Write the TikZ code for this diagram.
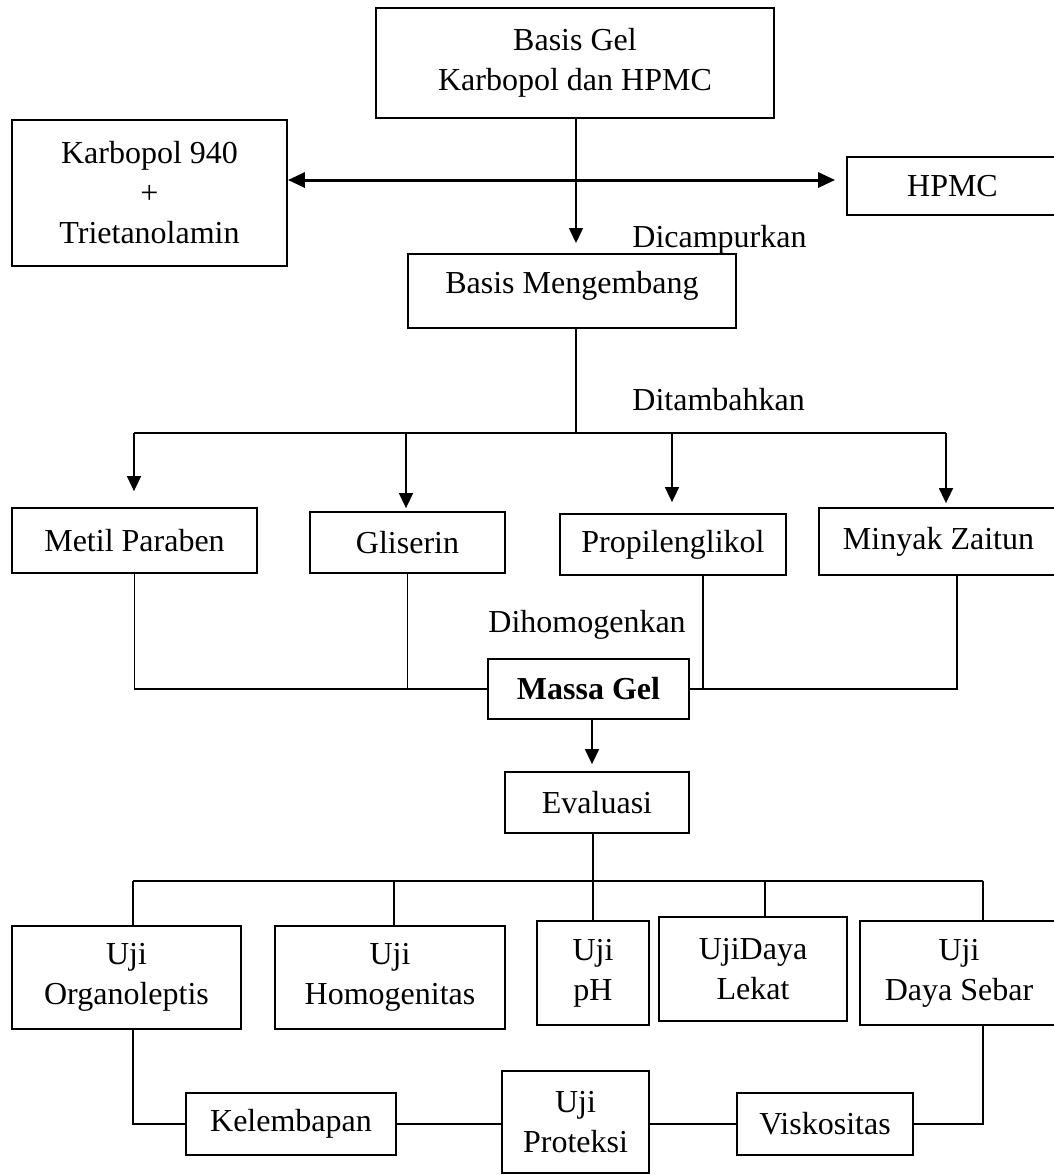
\documentclass[tikz,border=0pt]{standalone}
\usepackage{fontspec}
\setmainfont{Liberation Serif}
\usetikzlibrary{arrows.meta}
\begin{document}
\begin{tikzpicture}[x=0.5pt,y=-0.5pt,
  box/.style={draw, line width=0.9pt, inner sep=0pt, align=center, font=\fontsize{16}{20}\selectfont},
  ln/.style={line width=0.8pt},
  arr/.style={line width=0.8pt, -{Triangle[length=7.5pt,width=7pt]}},
  dbl/.style={line width=1.5pt, {Triangle[length=8.5pt,width=7.5pt]}-{Triangle[length=8.5pt,width=7.5pt]}},
  lbl/.style={inner sep=0pt, font=\fontsize{16}{20}\selectfont, anchor=base west}]
\useasboundingbox (0,0) rectangle (1054,1175);
\clip (0,0) rectangle (1054,1175);

% nodes
\node[box, minimum width=199pt, minimum height=55pt] (top) at (575,63) {Basis Gel\\Karbopol dan HPMC};
\node[box, minimum width=137.5pt, minimum height=73pt] (karb) at (149.5,193) {Karbopol 940\\+\\Trietanolamin};
\node[box, minimum width=105.5pt, minimum height=29pt] (hpmc) at (952.5,186) {HPMC};
\node[box, minimum width=164pt, minimum height=37pt, text depth=9pt] (bm) at (572,291) {Basis Mengembang};

\node[box, minimum width=122.5pt, minimum height=32.5pt] (mp) at (134.5,540.5) {Metil Paraben};
\node[box, minimum width=97.5pt, minimum height=30.5pt] (gl) at (407.5,542.5) {Gliserin};
\node[box, minimum width=113pt, minimum height=30.5pt] (pg) at (673,544.5) {Propilenglikol};
\node[box, minimum width=119.5pt, minimum height=33.5pt] (mz) at (938.5,541.5) {Minyak Zaitun};

\node[box, minimum width=100.5pt, minimum height=30pt, font=\fontsize{16}{20}\selectfont\bfseries] (mg) at (588.5,689) {Massa Gel};
\node[box, minimum width=92pt, minimum height=30.5pt] (ev) at (597,802.5) {Evaluasi};

\node[box, minimum width=114.5pt, minimum height=51.5pt] (org) at (126.5,977.5) {Uji\\Organoleptis};
\node[box, minimum width=115pt, minimum height=51.5pt] (hom) at (390,977.5) {Uji\\Homogenitas};
\node[box, minimum width=56pt, minimum height=52pt] (ph) at (593,973) {Uji\\pH};
\node[box, minimum width=94pt, minimum height=52pt] (lek) at (753,969) {UjiDaya\\Lekat};
\node[box, minimum width=99pt, minimum height=52pt] (seb) at (959,973) {Uji\\Daya Sebar};

\node[box, minimum width=105pt, minimum height=31pt] (kel) at (291,1124) {Kelembapan};
\node[box, minimum width=73.5pt, minimum height=51pt] (pro) at (575.5,1122) {Uji\\Proteksi};
\node[box, minimum width=88pt, minimum height=31pt] (vis) at (825,1124) {Viskositas};

% labels
\node[lbl] (l1) at (632,247) {Dicampurkan};
\node[lbl] (l2) at (632,410) {Ditambahkan};
\node[lbl] (l3) at (488,632) {Dihomogenkan};

% top part
\coordinate (a1) at (576,243);
\coordinate (dy) at (576,180);
\draw[arr] (top.south -| a1) -- (a1);
\draw[dbl, shorten >=5.5pt] (karb.east |- dy) -- (hpmc.west |- dy);

% Basis Mengembang to ingredients
\coordinate (j0) at (576,433);
\coordinate (j1) at (134,433);
\coordinate (j2) at (406,433);
\coordinate (j3) at (672,433);
\coordinate (j4) at (946,433);
\draw[ln] (bm.south -| j0) -- (j0);
\draw[ln] (j1) -- (j4);
\draw[arr, shorten >=8pt] (j1) -- (j1 |- mp.north);
\draw[arr, shorten >=1.5pt] (j2) -- (j2 |- gl.north);
\draw[arr, shorten >=5.5pt] (j3) -- (j3 |- pg.north);
\draw[arr, shorten >=2pt] (j4) -- (j4 |- mz.north);

% ingredients to Massa Gel
\coordinate (p3) at ([xshift=15pt]pg.south);
\coordinate (p4) at ([xshift=9.25pt]mz.south);
\draw[ln] (mp.south) |- (mg.west);
\draw[ln] (gl.south) -- (gl.south |- mg.west);
\draw[ln] (p3) -- (p3 |- mg.east);
\draw[ln] (p4) |- (mg.east);

% Massa Gel to Evaluasi
\coordinate (m1) at ([xshift=1.75pt]mg.south);
\draw[arr, shorten >=3.5pt] (m1) -- (m1 |- ev.north);

% Evaluasi to tests
\coordinate (b1) at (133,881);
\coordinate (b2) at (394,881);
\coordinate (b4) at (765,881);
\coordinate (b5) at (983,881);
\draw[ln] (ph.north |- ev.south) -- (ph.north);
\draw[ln] (b1) -- (b5);
\draw[ln] (b1) -- (b1 |- org.north);
\draw[ln] (b2) -- (b2 |- hom.north);
\draw[ln] (b4) -- (b4 |- lek.north);
\draw[ln] (b5) -- (b5 |- seb.north);

% bottom row
\draw[ln] (b1 |- org.south) |- (kel.west);
\draw[ln] (kel.east) -- (kel.east -| pro.west);
\draw[ln] (vis.west -| pro.east) -- (vis.west);
\draw[ln] (vis.east) -| (b5 |- seb.south);
\end{tikzpicture}
\end{document}
